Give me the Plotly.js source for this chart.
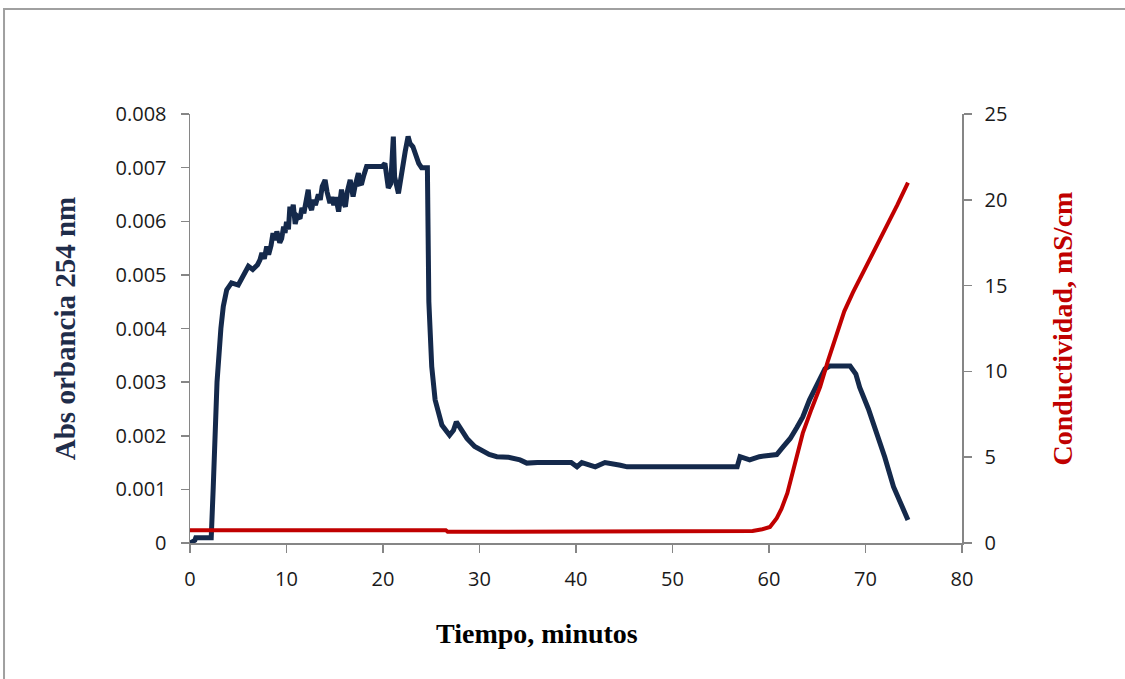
<!DOCTYPE html>
<html>
<head>
<meta charset="utf-8">
<script src="https://cdn.plot.ly/plotly-3.0.1.min.js"></script>
<style>html,body{margin:0;padding:0;background:#fff;}#chart{width:1125px;height:679px;}</style>
</head>
<body>
<div id="chart"></div>
<script>
// Absorbance 254 nm (left axis)
const timeAbs = [0, 0.5, 0.6, 2.2, 2.4, 2.8, 3.2, 3.45, 3.8, 4.3, 5.0, 5.4, 6.05, 6.5, 7.0, 7.25, 7.45, 7.7, 7.95, 8.15, 8.4, 8.6, 8.8, 9.0, 9.3, 9.5, 9.7, 9.85, 10.0, 10.2, 10.35, 10.5, 10.7, 10.9, 11.1, 11.4, 11.6, 11.8, 12.0, 12.25, 12.4, 12.6, 12.8, 13.0, 13.3, 13.5, 13.7, 14.0, 14.2, 14.5, 14.7, 14.9, 15.1, 15.4, 15.7, 15.9, 16.1, 16.3, 16.6, 16.8, 16.9, 17.1, 17.45, 17.6, 17.8, 18.0, 18.3, 19.9, 20.2, 20.55, 20.8, 21.07, 21.2, 21.6, 21.9, 22.3, 22.6, 22.8, 23.1, 23.4, 23.7, 24.0, 24.6, 24.75, 25.05, 25.4, 25.8, 26.1, 26.9, 27.3, 27.6, 28.0, 28.7, 29.5, 30.05, 31.0, 31.8, 33.0, 34.2, 34.9, 36, 38, 39.5, 40.1, 40.6, 42, 43, 44.6, 45.3, 50, 56.7, 57.0, 58.0, 59, 60.8, 61.5, 62.2, 62.9, 63.5, 64.2, 64.8, 65.3, 65.8, 66.3, 68.4, 69.0, 69.4, 70.3, 71.2, 72.0, 72.9, 73.7, 74.4];
const absVals = [0, 0.00005, 0.0001, 0.0001, 0.001, 0.003, 0.004, 0.00441, 0.00472, 0.00485, 0.00481, 0.00494, 0.00516, 0.0051, 0.00519, 0.00528, 0.00541, 0.0053, 0.00553, 0.00538, 0.00555, 0.00578, 0.00565, 0.00581, 0.0056, 0.00568, 0.0059, 0.00578, 0.00599, 0.00585, 0.00627, 0.0061, 0.00631, 0.00595, 0.0061, 0.00605, 0.00625, 0.00615, 0.0064, 0.00659, 0.0063, 0.00621, 0.0064, 0.0063, 0.0065, 0.0064, 0.00665, 0.00677, 0.00655, 0.00634, 0.00645, 0.0063, 0.00645, 0.00618, 0.00659, 0.00635, 0.00627, 0.00655, 0.00677, 0.0065, 0.00646, 0.00665, 0.0069, 0.0067, 0.00671, 0.00685, 0.00702, 0.00702, 0.00708, 0.00662, 0.0067, 0.00758, 0.00683, 0.00652, 0.0069, 0.0073, 0.00758, 0.00745, 0.00739, 0.0072, 0.00708, 0.007, 0.007, 0.0045, 0.00329, 0.00267, 0.0024, 0.0022, 0.00201, 0.0021, 0.00226, 0.00215, 0.00195, 0.0018, 0.00174, 0.00165, 0.00161, 0.0016, 0.00155, 0.00149, 0.0015, 0.0015, 0.0015, 0.00142, 0.0015, 0.00142, 0.0015, 0.00145, 0.00142, 0.00142, 0.00142, 0.00161, 0.00155, 0.00161, 0.00165, 0.0018, 0.00195, 0.00216, 0.00235, 0.00267, 0.0029, 0.0031, 0.00325, 0.0033, 0.0033, 0.00315, 0.0029, 0.0025, 0.00205, 0.0016, 0.00105, 0.0007, 0.00043];

// Conductivity mS/cm (right axis)
const timeCond = [0, 26.5, 26.7, 57.0, 58.3, 59.3, 60.1, 60.8, 61.3, 61.9, 62.7, 63.5, 64.4, 65.3, 66.1, 67.0, 67.8, 68.7, 69.6, 70.5, 71.3, 72.2, 73.3, 74.4];
const condVals = [0.75, 0.75, 0.65, 0.65, 0.7, 0.8, 0.93, 1.45, 2.0, 2.9, 4.6, 6.4, 7.8, 9.1, 10.6, 12.2, 13.5, 14.6, 15.6, 16.5, 17.4, 18.4, 19.7, 21.0];

const xTicks = [0, 10, 20, 30, 40, 50, 60, 70, 80];
const yLeftTicks = [0, 0.001, 0.002, 0.003, 0.004, 0.005, 0.006, 0.007, 0.008];
const yLeftLabels = ['0', '0.001', '0.002', '0.003', '0.004', '0.005', '0.006', '0.007', '0.008'];
const yRightTicks = [0, 5, 10, 15, 20, 25];

const xTitle = 'Tiempo, minutos';
const yLeftTitle = 'Abs orbancia 254 nm';
const yRightTitle = 'Conductividad, mS/cm';

const navy = '#14294B';
const red = '#C00000';
const axisGray = '#868686';
const tickFont = {family: 'Open Sans, sans-serif', size: 20, color: '#1a1a1a'};

const traces = [
  {x: timeCond, y: condVals, yaxis: 'y2', mode: 'lines', line: {color: red, width: 4}, hoverinfo: 'skip'},
  {x: timeAbs, y: absVals, yaxis: 'y', mode: 'lines', line: {color: navy, width: 5}, hoverinfo: 'skip'}
];

const layout = {
  width: 1125, height: 679,
  margin: {l: 190, r: 163, t: 114, b: 136},
  paper_bgcolor: '#fff', plot_bgcolor: '#fff',
  showlegend: false,
  xaxis: {
    range: [0, 80], tickvals: xTicks, ticktext: xTicks.map(String),
    showgrid: false, zeroline: false, showline: true, linecolor: axisGray, linewidth: 1.5,
    ticks: 'outside', ticklen: 8, tickcolor: axisGray, tickwidth: 1.5,
    tickfont: tickFont, ticklabelstandoff: 9
  },
  yaxis: {
    range: [0, 0.008], tickvals: yLeftTicks, ticktext: yLeftLabels,
    showgrid: false, zeroline: false, showline: true, linecolor: axisGray, linewidth: 1.5,
    ticks: 'outside', ticklen: 8, tickcolor: axisGray, tickwidth: 1.5,
    tickfont: tickFont, ticklabelstandoff: 10,
    title: {text: '<b>' + yLeftTitle + '</b>', font: {family: 'Liberation Serif, serif', size: 29, color: '#1F2D4A'}, standoff: 31}
  },
  yaxis2: {
    range: [0, 25], tickvals: yRightTicks, ticktext: yRightTicks.map(String),
    overlaying: 'y', side: 'right',
    showgrid: false, zeroline: false, showline: true, linecolor: axisGray, linewidth: 1.5,
    ticks: 'outside', ticklen: 8, tickcolor: axisGray, tickwidth: 1.5,
    tickfont: tickFont, ticklabelstandoff: 9,
    title: {text: '<b>' + yRightTitle + '</b>', font: {family: 'Liberation Serif, serif', size: 28, color: red}, standoff: 46}
  },
  annotations: [
    {text: '<b>' + xTitle + '</b>', xref: 'paper', yref: 'paper', x: 0.4495, y: -0.2098,
     xanchor: 'center', yanchor: 'middle', showarrow: false,
     font: {family: 'Liberation Serif, serif', size: 28, color: '#000'}}
  ],
  shapes: [
    {type: 'rect', xref: 'paper', yref: 'paper', x0: -0.2409, x1: 1.22, y0: -0.34, y1: 1.2448,
     line: {color: '#A0A0A0', width: 2}, fillcolor: 'rgba(0,0,0,0)', layer: 'below'}
  ]
};

Plotly.newPlot('chart', traces, layout, {displayModeBar: false, staticPlot: true});
</script>
</body>
</html>
